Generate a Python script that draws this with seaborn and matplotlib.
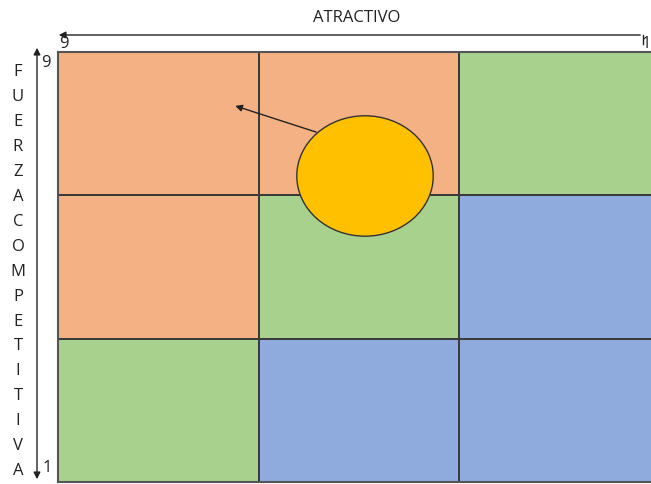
import numpy as np
import matplotlib.pyplot as plt
import seaborn as sns
from matplotlib.colors import ListedColormap
from matplotlib.patches import Ellipse

# zone per cell: 0 = orange, 1 = green, 2 = blue
zones = [[0, 0, 1],
         [0, 1, 2],
         [1, 2, 2]]
zone_colors = ["#F4B183", "#A9D18E", "#8FAADC"]

# bubble (cell units: column, row from top)
bubble_x = 1.53
bubble_y = 0.865
bubble_w = 0.68
bubble_h = 0.84
arrow_from = (1.30, 0.565)
arrow_to = (0.87, 0.37)

x_label = "ATRACTIVO"
y_label = "FUERZA COMPETITIVA".replace(" ", "")
scale_hi = "9"
scale_lo = "1"

W, H = 651, 484
fig = plt.figure(figsize=(W / 100, H / 100), dpi=100)
plt.rcParams['font.family'] = ['Open Sans', 'DejaVu Sans']

# grid axes in pixel position
ax = fig.add_axes([58 / W, (H - 482) / H, (660 - 58) / W, (482 - 52) / H])
sns.heatmap(np.array(zones), cmap=ListedColormap(zone_colors), vmin=-0.5, vmax=2.5,
            cbar=False, linewidths=1.2, linecolor="#3a3a3a", ax=ax,
            xticklabels=False, yticklabels=False)
for s in ax.spines.values():
    s.set_visible(True)
    s.set_color("#555555")
    s.set_linewidth(1.5)

ax.add_patch(Ellipse((bubble_x, bubble_y), bubble_w, bubble_h, facecolor="#FFC000",
                     edgecolor="#333333", lw=1, zorder=5))
ax.annotate("", xy=arrow_to, xytext=arrow_from,
            arrowprops=dict(arrowstyle="-|>", color="#222222", lw=1, mutation_scale=10),
            zorder=4)

# overlay for axis labels, in pixel coords
ov = fig.add_axes([0, 0, 1, 1])
ov.set_xlim(0, W)
ov.set_ylim(H, 0)
ov.axis("off")

ov.annotate("", xy=(56, 35), xytext=(643, 35),
            arrowprops=dict(arrowstyle="-|>", color="#222222", lw=1, mutation_scale=10))
ov.plot([643, 643], [35, 44], color="#222222", lw=1)
ov.text(357, 18, x_label, ha="center", va="center", fontsize=12, color="#222222")
ov.text(64, 44, scale_hi, ha="center", va="center", fontsize=12, color="#222222")
ov.text(651, 44, scale_lo, ha="right", va="center", fontsize=12, color="#222222")

ov.annotate("", xy=(37, 45), xytext=(37, 482),
            arrowprops=dict(arrowstyle="<|-|>", color="#222222", lw=1, mutation_scale=10))
for i, ch in enumerate(y_label):
    ov.text(18, 72 + i * 24.95, ch, ha="center", va="center", fontsize=12, color="#222222")
ov.text(46, 63, scale_hi, ha="center", va="center", fontsize=12, color="#222222")
ov.text(47, 468, scale_lo, ha="center", va="center", fontsize=12, color="#222222")

fig.savefig("out.png", dpi=100)
